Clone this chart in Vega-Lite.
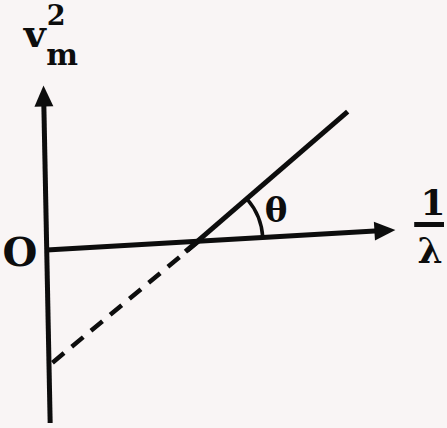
{
  "$schema": "https://vega.github.io/schema/vega-lite/v6.json",
  "width": 447,
  "height": 428,
  "padding": 0,
  "autosize": {"type": "fit", "contains": "padding"},
  "background": "#f9f5f5",
  "config": {"view": {"stroke": null}},
  "datasets": {
    "segments": [
      {"part": "axis", "x": 1.5, "y": -173, "x2": -5, "y2": 152},
      {"part": "axis", "x": -2, "y": 0, "x2": 337, "y2": 19.5},
      {"part": "axis", "x": 137.7, "y": -1.7, "x2": 301, "y2": 138.3},
      {"part": "axis", "x": 368, "y": 25.5, "x2": 398, "y2": 25.5},
      {"part": "dashed", "x": 151, "y": 8.7, "x2": 1, "y2": -115}
    ],
    "heads": [
      {"axis": "y", "x": -5, "y": 154},
      {"axis": "x", "x": 338.5, "y": 19.5}
    ],
    "angle": [
      {"x": 151, "y": 8.7}
    ],
    "labels": [
      {"role": "big", "text": "v", "x": -14, "y": 203},
      {"role": "sup", "text": "2", "x": 7.5, "y": 225},
      {"role": "sub", "text": "m", "x": 13.5, "y": 185},
      {"role": "origin", "text": "O", "x": -29, "y": -16},
      {"role": "frac", "text": "1", "x": 387, "y": 35},
      {"role": "frac", "text": "λ", "x": 384, "y": -13},
      {"role": "theta", "text": "θ", "x": 229, "y": 28}
    ]
  },
  "encoding": {
    "x": {"field": "x", "type": "quantitative", "scale": {"domain": [-49, 398], "nice": false, "zero": false}, "axis": null},
    "y": {"field": "y", "type": "quantitative", "scale": {"domain": [-178, 250], "nice": false, "zero": false}, "axis": null}
  },
  "layer": [
    {
      "data": {"name": "segments"},
      "transform": [{"filter": "datum.part === 'axis'"}],
      "mark": {"type": "rule", "color": "#0d0d0d", "strokeWidth": 5, "strokeCap": "butt"},
      "encoding": {"x2": {"field": "x2"}, "y2": {"field": "y2"}}
    },
    {
      "data": {"name": "segments"},
      "transform": [{"filter": "datum.part === 'dashed'"}],
      "mark": {"type": "rule", "color": "#0d0d0d", "strokeWidth": 4.5, "strokeCap": "butt", "strokeDash": [15, 10]},
      "encoding": {"x2": {"field": "x2"}, "y2": {"field": "y2"}}
    },
    {
      "data": {"name": "angle"},
      "mark": {"type": "arc", "color": "#0d0d0d", "innerRadius": 62.5, "outerRadius": 66, "theta": 0.855, "theta2": 1.513}
    },
    {
      "data": {"name": "heads"},
      "transform": [{"filter": "datum.axis === 'x'"}],
      "mark": {"type": "point", "shape": "M-1,-0.9L1,0L-1,0.9Z", "filled": true, "opacity": 1, "color": "#0d0d0d", "size": 441, "angle": -3.3}
    },
    {
      "data": {"name": "heads"},
      "transform": [{"filter": "datum.axis === 'y'"}],
      "mark": {"type": "point", "shape": "M-1,-0.9L1,0L-1,0.9Z", "filled": true, "opacity": 1, "color": "#0d0d0d", "size": 441, "angle": -91.1}
    },
    {
      "data": {"name": "labels"},
      "transform": [{"filter": "datum.role === 'big'"}],
      "mark": {"type": "text", "font": "DejaVu Serif", "fontWeight": "bold", "fontSize": 38, "baseline": "alphabetic", "align": "center", "color": "#0d0d0d"},
      "encoding": {"text": {"field": "text"}}
    },
    {
      "data": {"name": "labels"},
      "transform": [{"filter": "datum.role === 'sup'"}],
      "mark": {"type": "text", "font": "DejaVu Serif", "fontWeight": "bold", "fontSize": 27, "baseline": "alphabetic", "align": "center", "color": "#0d0d0d"},
      "encoding": {"text": {"field": "text"}}
    },
    {
      "data": {"name": "labels"},
      "transform": [{"filter": "datum.role === 'sub'"}],
      "mark": {"type": "text", "font": "DejaVu Serif", "fontWeight": "bold", "fontSize": 30, "baseline": "alphabetic", "align": "center", "color": "#0d0d0d"},
      "encoding": {"text": {"field": "text"}}
    },
    {
      "data": {"name": "labels"},
      "transform": [{"filter": "datum.role === 'origin'"}],
      "mark": {"type": "text", "font": "DejaVu Serif", "fontWeight": "bold", "fontSize": 40, "baseline": "alphabetic", "align": "center", "color": "#0d0d0d"},
      "encoding": {"text": {"field": "text"}}
    },
    {
      "data": {"name": "labels"},
      "transform": [{"filter": "datum.role === 'frac'"}],
      "mark": {"type": "text", "font": "DejaVu Serif", "fontWeight": "bold", "fontSize": 36, "baseline": "alphabetic", "align": "center", "color": "#0d0d0d"},
      "encoding": {"text": {"field": "text"}}
    },
    {
      "data": {"name": "labels"},
      "transform": [{"filter": "datum.role === 'theta'"}],
      "mark": {"type": "text", "font": "DejaVu Serif", "fontWeight": "bold", "fontSize": 34, "baseline": "alphabetic", "align": "center", "color": "#0d0d0d"},
      "encoding": {"text": {"field": "text"}}
    }
  ]
}
